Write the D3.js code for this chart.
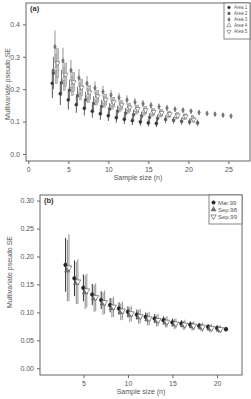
<!DOCTYPE html>
<html><head><meta charset="utf-8">
<script src="https://cdn.jsdelivr.net/npm/d3@7"></script>
<style>body{margin:0;background:#fff}svg{display:block}text{font-family:"Liberation Sans",Arial,sans-serif}</style>
</head><body><svg id="c" width="251" height="399"></svg>
<script>
// ---------- Panel (a) data ----------
const areaNames = ["Area 1","Area 2","Area 3","Area 4","Area 5"];
const area1N = d3.range(3,17);
const area1 = [0.218,0.186,0.167,0.152,0.141,0.132,0.124,0.118,0.112,0.107,0.103,0.099,0.096,0.094];
const area1Err = [0.045,0.035,0.03,0.025,0.022,0.02,0.018,0.016,0.015,0.014,0.013,0.012,0.011,0.011];
const area2N = d3.range(3,22);
const area2 = [0.25,0.22,0.197,0.18,0.167,0.156,0.147,0.139,0.132,0.126,0.121,0.117,0.113,0.11,0.107,0.104,0.101,0.099,0.096];
const area2Err = [0.05,0.04,0.033,0.028,0.025,0.022,0.02,0.018,0.017,0.016,0.015,0.014,0.013,0.012,0.012,0.011,0.011,0.01,0.01];
const area3N = d3.range(3,26);
const area3 = [0.331,0.288,0.258,0.235,0.218,0.204,0.192,0.182,0.174,0.167,0.16,0.155,0.15,0.146,0.142,0.138,0.135,0.132,0.128,0.125,0.123,0.12,0.117];
const area3Err = [0.05,0.04,0.032,0.027,0.023,0.02,0.018,0.016,0.015,0.014,0.013,0.012,0.011,0.01,0.01,0.009,0.009,0.008,0.008,0.008,0.007,0.007,0.007];
const area4N = d3.range(3,21);
const area4 = [0.262,0.232,0.21,0.193,0.18,0.17,0.161,0.153,0.146,0.139,0.135,0.131,0.127,0.124,0.121,0.117,0.114,0.111];
const area4Err = [0.045,0.036,0.03,0.026,0.022,0.019,0.017,0.015,0.014,0.013,0.012,0.011,0.01,0.01,0.009,0.009,0.008,0.008];
const area5N = d3.range(3,21);
const area5 = [0.28,0.245,0.222,0.205,0.19,0.178,0.168,0.16,0.152,0.144,0.139,0.135,0.13,0.127,0.123,0.119,0.116,0.106];
const area5Err = [0.045,0.036,0.03,0.026,0.022,0.019,0.017,0.015,0.014,0.013,0.012,0.011,0.01,0.01,0.009,0.009,0.008,0.008];
const areaOffsets = [0, 0.15, 0.33, 0.5, 0.67];
const xTicksA = [0,5,10,15,20,25];
const yTicksA = [0,0.1,0.2,0.3,0.4];

// ---------- Panel (b) data ----------
const seasonNames = ["Mar.99","Sep.98","Sep.99"];
const marN = d3.range(3,22);
const mar99 = [0.185,0.161,0.144,0.132,0.122,0.113,0.107,0.101,0.096,0.092,0.089,0.086,0.082,0.080,0.078,0.076,0.074,0.072,0.070];
const mar99Err = [0.048,0.032,0.024,0.019,0.016,0.013,0.011,0.01,0.009,0.008,0.008,0.007,0.007,0.006,0.006,0.005,0.005,0.005,0.004];
const sepN = d3.range(3,21);
const sep98 = [0.175,0.153,0.136,0.125,0.116,0.108,0.101,0.096,0.092,0.088,0.085,0.082,0.079,0.077,0.075,0.073,0.071,0.069];
const sep98Err = [0.055,0.038,0.03,0.024,0.02,0.017,0.015,0.013,0.012,0.011,0.01,0.009,0.009,0.008,0.008,0.007,0.007,0.006];
const sep99 = [0.18,0.155,0.139,0.127,0.118,0.11,0.103,0.098,0.093,0.089,0.086,0.083,0.08,0.078,0.076,0.074,0.072,0.07];
const sep99Err = [0.06,0.04,0.03,0.025,0.021,0.018,0.016,0.014,0.013,0.012,0.011,0.01,0.009,0.009,0.008,0.008,0.007,0.007];
const seasonOffsets = [0, 0.2, 0.38];
const xTicksB = [5,10,15,20];
const yTicksB = [0,0.05,0.1,0.15,0.2,0.25,0.3];

const svg = d3.select("#c");
const AX = "#666", TXT = "#555";

function panel(cfg){
  const g = svg.append("g");
  const x = d3.scaleLinear().domain(cfg.xd).range([cfg.l, cfg.r]);
  const y = d3.scaleLinear().domain(cfg.yd).range([cfg.b, cfg.t]);
  g.append("rect").attr("x",cfg.l).attr("y",cfg.t).attr("width",cfg.r-cfg.l).attr("height",cfg.b-cfg.t)
    .attr("fill","none").attr("stroke",AX).attr("stroke-width",1);
  const xa = g.append("g").attr("transform",`translate(0,${cfg.b})`)
    .call(d3.axisBottom(x).tickValues(cfg.xt).tickSize(3).tickPadding(3).tickFormat(d3.format("d")));
  const ya = g.append("g").attr("transform",`translate(${cfg.l},0)`)
    .call(d3.axisLeft(y).tickValues(cfg.yt).tickSize(3).tickPadding(3).tickFormat(d3.format(cfg.yf)));
  [xa,ya].forEach(a=>{a.attr("font-family",null);a.select(".domain").remove();a.selectAll("line").attr("stroke",AX);
    a.selectAll("text").attr("fill",TXT).style("font-size","7px");});
  g.append("text").attr("x",(cfg.l+cfg.r)/2).attr("y",cfg.xlY).attr("text-anchor","middle")
    .attr("fill",TXT).style("font-size","7px").text("Sample size (n)");
  g.append("text").attr("transform",`translate(${cfg.ylX},${cfg.ylY}) rotate(-90)`).attr("text-anchor","middle")
    .attr("fill",TXT).style("font-size","7px").text("Multivariate pseudo SE");
  g.append("text").attr("x",cfg.l+4).attr("y",cfg.t+8).attr("fill","#333")
    .style("font-size","7.5px").style("font-weight","bold").text(cfg.tag);
  cfg.series.forEach(s=>{
    const pts = s.n.map((n,i)=>({x:n+s.off, v:s.v[i], e:s.e[i]}));
    const sg = g.append("g");
    if (s.barW){
      sg.selectAll("rect").data(pts).join("rect")
        .attr("x",d=>x(d.x)-s.barW/2).attr("width",s.barW)
        .attr("y",d=>y(d.v+d.e)).attr("height",d=>y(d.v-d.e)-y(d.v+d.e))
        .attr("fill",s.barFill).attr("stroke",s.barStroke).attr("stroke-width",0.4);
    } else {
      sg.selectAll("line").data(pts).join("line")
        .attr("x1",d=>x(d.x)).attr("x2",d=>x(d.x))
        .attr("y1",d=>y(d.v+d.e)).attr("y2",d=>y(d.v-d.e))
        .attr("stroke",s.barStroke).attr("stroke-width",s.lw||1);
    }
    sg.selectAll("path").data(pts).join("path")
      .attr("transform",d=>`translate(${x(d.x)},${y(d.v)})${s.rot?" rotate(180)":""}`)
      .attr("d",d3.symbol().type(s.sym).size(s.size))
      .attr("fill",s.fill).attr("stroke",s.stroke).attr("stroke-width",0.6);
  });
  const L = cfg.leg;
  g.append("rect").attr("x",L.x).attr("y",L.y).attr("width",L.w).attr("height",L.h)
    .attr("fill","#fff").attr("stroke",AX).attr("stroke-width",0.8);
  cfg.series.forEach((s,i)=>{
    const yy = L.y + L.first + i*L.step;
    g.append("path").attr("transform",`translate(${L.x+L.mx},${yy})${s.rot?" rotate(180)":""}`)
      .attr("d",d3.symbol().type(s.sym).size(s.size*0.8))
      .attr("fill",s.fill).attr("stroke",s.stroke).attr("stroke-width",0.6);
    g.append("text").attr("x",L.x+L.tx).attr("y",yy).attr("dy","0.35em")
      .attr("fill",TXT).style("font-size",L.fs+"px").text(s.name);
  });
}

panel({
  l:26, r:250, t:3, b:161, xd:[-0.29,27.7], yd:[-0.0216,0.466],
  xt:xTicksA, yt:yTicksA, yf:".1f", xlY:180, ylX:10, ylY:84, tag:"(a)",
  leg:{x:224,y:3,w:26,h:36,first:4.5,step:6,mx:5,tx:10,fs:4.5},
  series:[
    {name:areaNames[0],n:area1N,v:area1,e:area1Err,off:areaOffsets[0],sym:d3.symbolCircle,size:7,fill:"#333",stroke:"#333",barStroke:"#444",lw:0.9},
    {name:areaNames[1],n:area2N,v:area2,e:area2Err,off:areaOffsets[1],sym:d3.symbolSquare,size:6,fill:"#555",stroke:"#555",barStroke:"#666",lw:0.9},
    {name:areaNames[2],n:area3N,v:area3,e:area3Err,off:areaOffsets[2],sym:d3.symbolDiamond,size:6,fill:"#777",stroke:"#666",barStroke:"#777",lw:0.8},
    {name:areaNames[3],n:area4N,v:area4,e:area4Err,off:areaOffsets[3],sym:d3.symbolTriangle,size:10,fill:"#fff",stroke:"#666",barW:2.2,barFill:"#c4c4c4",barStroke:"#888"},
    {name:areaNames[4],n:area5N,v:area5,e:area5Err,off:areaOffsets[4],sym:d3.symbolTriangle,rot:true,size:10,fill:"#fff",stroke:"#666",barW:2.2,barFill:"#c4c4c4",barStroke:"#888"}
  ]
});

panel({
  l:40, r:242, t:195, b:375, xd:[0.13,22.8], yd:[-0.012,0.31],
  xt:xTicksB, yt:yTicksB, yf:".2f", xlY:394, ylX:12, ylY:272, tag:"(b)",
  leg:{x:209,y:195,w:33,h:29,first:7.5,step:7,mx:4.5,tx:9,fs:6},
  series:[
    {name:seasonNames[0],n:marN,v:mar99,e:mar99Err,off:seasonOffsets[0],sym:d3.symbolCircle,size:11,fill:"#222",stroke:"#222",barStroke:"#333",lw:1},
    {name:seasonNames[1],n:sepN,v:sep98,e:sep98Err,off:seasonOffsets[1],sym:d3.symbolTriangle,size:13,fill:"#777",stroke:"#555",barStroke:"#888",lw:1},
    {name:seasonNames[2],n:sepN,v:sep99,e:sep99Err,off:seasonOffsets[2],sym:d3.symbolTriangle,rot:true,size:15,fill:"#fff",stroke:"#444",barStroke:"#999",lw:1.1}
  ]
});
</script></body></html>
